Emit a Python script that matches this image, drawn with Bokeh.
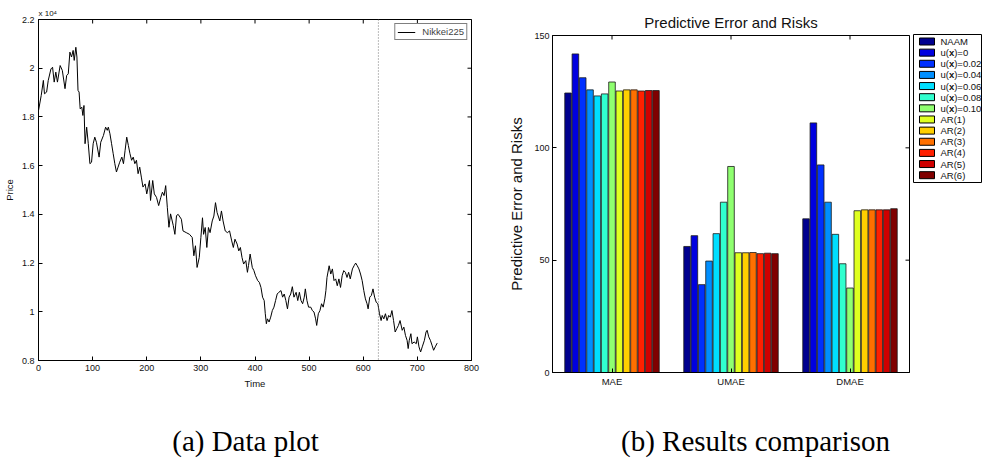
from math import pi

from bokeh.plotting import figure
from bokeh.models import (ColumnDataSource, FixedTicker, Range1d, FactorRange,
                          Span, Legend, LegendItem)
from bokeh.layouts import row, column
from bokeh.embed import file_html
from bokeh.resources import INLINE
from bokeh.core.properties import value
from bokeh.transform import dodge

# ---------------- Nikkei225 closing prices (trading-day index, yen) ----------------
time_idx = [0, 5, 9, 11, 15, 18, 23, 26, 29, 32, 35, 40, 44, 49, 52, 55, 58, 61, 64, 66,
            69, 71, 73, 75, 77, 80, 82, 84, 86, 89, 92, 95, 98, 101, 104, 107, 112, 115, 120, 124,
            127, 129, 132, 135, 138, 141, 144, 147, 150, 154, 157, 160, 163, 166, 169, 172, 175, 178, 181, 184,
            187, 190, 193, 197, 200, 205, 207, 211, 214, 218, 222, 226, 229, 232, 235, 238, 241, 244, 249, 252,
            255, 258, 264, 267, 273, 279, 284, 287, 290, 293, 297, 300, 303, 305, 308, 311, 314, 317, 321, 324,
            327, 330, 335, 338, 341, 345, 349, 353, 357, 360, 363, 367, 370, 373, 376, 379, 383, 386, 388, 391,
            395, 398, 401, 405, 408, 411, 414, 417, 419, 421, 423, 426, 429, 432, 435, 438, 441, 444, 448, 451,
            454, 457, 460, 463, 466, 469, 472, 476, 479, 482, 485, 488, 491, 493, 496, 499, 503, 506, 509, 512,
            514, 517, 520, 523, 526, 529, 531, 533, 537, 540, 543, 546, 549, 552, 555, 558, 561, 564, 567, 570,
            573, 576, 580, 583, 586, 589, 592, 595, 598, 601, 604, 607, 609, 612, 615, 618, 621, 624, 627, 630,
            633, 635, 638, 641, 644, 647, 650, 653, 656, 659, 662, 665, 668, 672, 675, 678, 681, 683, 685, 688,
            690, 694, 698, 700, 703, 706, 709, 713, 716, 718, 721, 724, 727, 730, 733, 736, 737]
nikkei = [18260, 18880, 19500, 18950, 19020, 19500, 19970, 20040, 19430, 19840, 19430, 20110, 19910, 19160, 19700, 19770, 20660, 20460, 20730, 20320,
          20860, 20460, 19090, 19020, 18330, 18400, 18060, 18470, 16900, 17580, 16900, 16080, 16140, 16900, 17170, 16960, 16350, 16960, 17240, 17580,
          17450, 17580, 17310, 16900, 16490, 16080, 15740, 15940, 16140, 16350, 16080, 16630, 17170, 16830, 16490, 16220, 16350, 16080, 16220, 15670,
          15940, 15530, 15120, 15250, 14840, 15390, 14570, 15390, 14840, 14700, 14360, 14700, 14910, 14770, 15180, 14290, 13470, 14020, 13540, 13180,
          13950, 14000, 13800, 13320, 13250, 13180, 13050, 12300, 12710, 11820, 12230, 13050, 13860, 13180, 13460, 12640, 13460, 13250, 13730, 13930,
          14480, 14070, 13730, 14140, 13730, 13320, 13250, 13320, 12910, 12640, 12980, 12780, 12500, 12640, 12230, 11960, 12100, 11620, 11900, 12370,
          11820, 11690, 11480, 11280, 11210, 11000, 10600, 10460, 9920, 9510, 9710, 9580, 9780, 10050, 10190, 10460, 10730, 10800, 10870, 10600,
          10730, 10460, 10120, 10600, 10730, 11030, 10600, 10800, 10460, 10800, 10460, 10330, 10600, 10940, 10460, 10190, 10190, 10050, 9990, 9710,
          9440, 9920, 10050, 10330, 10190, 10530, 10870, 11410, 11890, 11550, 11760, 11280, 11350, 11070, 11350, 11000, 11480, 11690, 11620, 11410,
          11620, 11350, 11760, 11890, 12000, 11890, 11760, 11550, 11280, 10870, 10530, 10330, 10120, 10600, 10670, 10940, 10600, 10390, 10330, 9920,
          9640, 9850, 9710, 9920, 9640, 9850, 9780, 10050, 9640, 9170, 9310, 9440, 9640, 9240, 9370, 9030, 8830, 8490, 8830, 9100,
          8690, 8760, 8690, 8970, 8560, 8350, 8560, 8830, 9170, 9240, 8970, 8830, 8630, 8420, 8560, 8690, 8720]
split_day = 628  # start of the test period

time_ticks = [0, 100, 200, 300, 400, 500, 600, 700, 800]
price_ticks = [8000, 10000, 12000, 14000, 16000, 18000, 20000, 22000]
price_tick_labels = ["0.8", "1", "1.2", "1.4", "1.6", "1.8", "2", "2.2"]

# ---------------- Predictive error of each model ----------------
metrics = ["MAE", "UMAE", "DMAE"]
models = ["NAAM", "u(x)=0", "u(x)=0.02", "u(x)=0.04", "u(x)=0.06", "u(x)=0.08", "u(x)=0.10",
          "AR(1)", "AR(2)", "AR(3)", "AR(4)", "AR(5)", "AR(6)"]
mae = [124.4, 141.8, 131.2, 125.8, 123.1, 124.0, 129.3, 125.3, 125.8, 125.8, 125.3, 125.5, 125.5]
umae = [56.1, 60.9, 39.1, 49.6, 61.8, 75.8, 91.7, 53.3, 53.3, 53.4, 52.9, 53.1, 52.9]
dmae = [68.4, 111.1, 92.4, 75.8, 61.5, 48.4, 37.6, 72.0, 72.4, 72.4, 72.4, 72.4, 72.9]
err_ticks = [0, 50, 100, 150]

captions = ["(a) Data plot", "(b) Results comparison"]

# jet colormap sampled at 13 evenly spaced levels
jet13 = ["#00008F", "#0000DF", "#0030FF", "#008FFF", "#00DFFF", "#30FFCF", "#8FFF70",
         "#DFFF20", "#FFCF00", "#FF7000", "#FF2000", "#CF0000", "#800000"]

FONT = "Liberation Sans"
SERIF = "Liberation Serif"
TICK_SIZE = "9px"
TOP_H = 401


def style_axis(ax):
    ax.axis_line_color = "black"
    ax.axis_line_width = 1
    ax.major_tick_in = 4
    ax.major_tick_out = 0
    ax.minor_tick_in = 0
    ax.minor_tick_out = 0
    ax.major_tick_line_color = "black"
    ax.major_label_text_font = FONT
    ax.major_label_text_color = "#111111"
    ax.major_label_text_font_size = TICK_SIZE
    ax.major_label_standoff = 4
    ax.axis_label_text_font = FONT
    ax.axis_label_text_font_style = "normal"
    ax.axis_label_text_color = "#111111"


def inner_ticks(p, xs, ys, vertical):
    # tick marks on the top/right frame edges; the frame clips the outer half
    p.scatter(x=xs, y=ys, marker="dash", size=8, angle=pi / 2 if vertical else 0,
              line_color="black", line_width=1)


# ---------------- (a) price series ----------------
p1 = figure(width=500, height=TOP_H, title="x 10\u2074",
            x_range=Range1d(0, 800), y_range=Range1d(8000, 22000),
            output_backend="svg", toolbar_location=None,
            min_border_left=37, min_border_right=29, min_border_top=19,
            min_border_bottom=TOP_H - 360)
p1.grid.visible = False
p1.outline_line_color = "black"
p1.title.align = "left"
p1.title.text_font = FONT
p1.title.text_font_size = "8px"
p1.title.text_font_style = "normal"
p1.title.text_color = "#111111"
p1.title.standoff = 3

price_line = p1.line(time_idx, nikkei, line_color="black", line_width=1)
p1.add_layout(Span(location=split_day, dimension="height", line_color="#777777",
                   line_dash="1 2", line_width=1))

p1.xaxis.ticker = FixedTicker(ticks=time_ticks)
p1.yaxis.ticker = FixedTicker(ticks=price_ticks)
p1.yaxis.major_label_overrides = dict(zip(price_ticks, price_tick_labels))
p1.xaxis.axis_label = "Time"
p1.yaxis.axis_label = "Price"
for ax in p1.xaxis + p1.yaxis:
    style_axis(ax)
    ax.axis_label_text_font_size = "9.5px"
    ax.axis_label_standoff = 4
inner_ticks(p1, time_ticks, [price_ticks[-1]] * len(time_ticks), True)
inner_ticks(p1, [time_ticks[-1]] * len(price_ticks), price_ticks, False)

leg1 = Legend(items=[LegendItem(label="Nikkei225", renderers=[price_line])],
              location="top_right", margin=4, padding=2, spacing=0,
              glyph_width=18, glyph_height=8, label_height=8, label_standoff=7,
              label_text_font=FONT, label_text_font_size="9.5px",
              border_line_color="black", border_line_width=1, background_fill_alpha=1)
p1.add_layout(leg1)

# ---------------- (b) grouped bars ----------------
cols = {"metric": metrics}
for i in range(len(models)):
    cols[f"m{i}"] = [mae[i], umae[i], dmae[i]]
src = ColumnDataSource(data=cols)

p2 = figure(width=411, height=TOP_H, title="Predictive Error and Risks",
            x_range=FactorRange(factors=metrics, range_padding=0), y_range=Range1d(0, 150),
            output_backend="svg", toolbar_location=None,
            min_border_left=52, min_border_right=2, min_border_top=35,
            min_border_bottom=TOP_H - 372)
p2.grid.visible = False
p2.outline_line_color = "black"
p2.title.align = "center"
p2.title.text_font = FONT
p2.title.text_font_size = "15px"
p2.title.text_font_style = "normal"
p2.title.text_color = "#111111"

n = len(models)
slot = 0.8 / n
for i in range(n):
    p2.vbar(x=dodge("metric", (i - (n - 1) / 2) * slot, range=p2.x_range), top=f"m{i}",
            width=slot * 0.9, source=src, fill_color=jet13[i],
            line_color="#1a1a1a", line_width=0.8)

p2.yaxis.ticker = FixedTicker(ticks=err_ticks)
p2.yaxis.axis_label = "Predictive Error and Risks"
for ax in p2.xaxis + p2.yaxis:
    style_axis(ax)
    ax.major_label_standoff = 3
p2.yaxis.axis_label_text_font_size = "15px"
p2.yaxis.axis_label_standoff = 6
p2.xaxis.major_label_text_font_size = "9.5px"
inner_ticks(p2, metrics, [err_ticks[-1]] * len(metrics), True)
inner_ticks(p2, [float(len(metrics))] * len(err_ticks), err_ticks, False)

# ---------------- legend panel for the bars ----------------
p3 = figure(width=71, height=TOP_H, title=None,
            x_range=Range1d(0, 71), y_range=Range1d(TOP_H, 0),
            x_axis_location=None, y_axis_location=None,
            output_backend="svg", toolbar_location=None,
            min_border_left=0, min_border_right=0, min_border_top=0, min_border_bottom=0)
p3.grid.visible = False
p3.outline_line_color = None

row_y = [41 + i * 11.14 for i in range(n)]
p3.quad(left=2, right=70, top=34, bottom=182, fill_color="white", line_color="black", line_width=1)
p3.quad(left=8, right=23, top=[y - 3.5 for y in row_y], bottom=[y + 3.5 for y in row_y],
        fill_color=jet13, line_color="black", line_width=1)

LEG_SIZE = "9.5px"
text_x = 29
plain_y, plain_t = [], []
pre_y, pre_t, bold_y, bold_t, post_y, post_t = [], [], [], [], [], []
for name, y in zip(models, row_y):
    if "(x)" in name:
        head, tail = name.split("x", 1)
        pre_y.append(y); pre_t.append(head)
        bold_y.append(y); bold_t.append("x")
        post_y.append(y); post_t.append(tail)
    else:
        plain_y.append(y); plain_t.append(name)

common = dict(text_baseline="middle", text_align="left", text_font=value(FONT),
              text_font_size=LEG_SIZE, text_color="#111111")
p3.text(x=[text_x] * len(plain_y), y=plain_y, text=plain_t, **common)
p3.text(x=[text_x] * len(pre_y), y=pre_y, text=pre_t, **common)
p3.text(x=[text_x + 8.4] * len(bold_y), y=bold_y, text=bold_t, text_font_style="bold", **common)
p3.text(x=[text_x + 13.7] * len(post_y), y=post_y, text=post_t, **common)

# ---------------- sub-figure captions ----------------
CAP_H = 461 - TOP_H
p4 = figure(width=982, height=CAP_H, title=None,
            x_range=Range1d(0, 982), y_range=Range1d(CAP_H, 0),
            x_axis_location=None, y_axis_location=None,
            output_backend="svg", toolbar_location=None,
            min_border_left=0, min_border_right=0, min_border_top=0, min_border_bottom=0)
p4.grid.visible = False
p4.outline_line_color = None
p4.text(x=[245, 755], y=[39, 39], text=captions, text_align="center", text_baseline="middle",
        text_font=value(SERIF), text_font_size="29px", text_color="black")

# each panel in its own column so the two frames keep their own borders
layout = column(row(column(p1), column(p2), column(p3)), p4)
open("out.html", "w").write(file_html(layout, INLINE))
